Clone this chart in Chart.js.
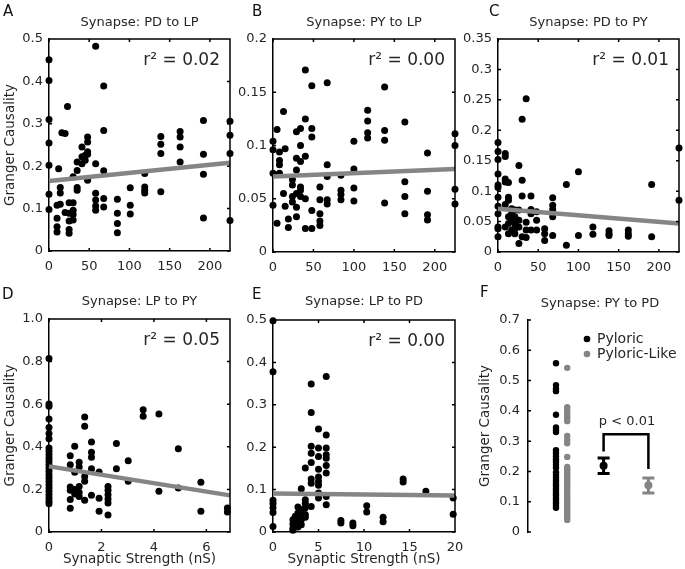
<!DOCTYPE html>
<html>
<head>
<meta charset="utf-8">
<script src="https://cdn.jsdelivr.net/npm/chart.js@4.4.1/dist/chart.umd.min.js"></script>
<style>
  html, body { margin: 0; padding: 0; background: #fff; }
  #wrap { position: relative; width: 685px; height: 569px; overflow: hidden; background: #fff; }
  #wrap canvas { position: absolute; }
</style>
</head>
<body>
<div id="wrap">
  <canvas id="pA"></canvas>
  <canvas id="pB"></canvas>
  <canvas id="pC"></canvas>
  <canvas id="pD"></canvas>
  <canvas id="pE"></canvas>
  <canvas id="pF"></canvas>
</div>
<script>
// A: PD to LP
const strengthA = [0, 10, 12, 14, 16, 20, 23, 25, 30, 35, 41, 45, 48, 58, 68, 85, 101, 119, 139, 163, 192, 225];
const grangerA = [
  [0.451, 0.402, 0.31, 0.255, 0.202, 0.134, 0.098],
  [0.108, 0.077, 0.057, 0.045],
  [0.194],
  [0.15, 0.137, 0.11],
  [0.279],
  [0.277, 0.091],
  [0.341],
  [0.114, 0.089, 0.071, 0.051, 0.042],
  [0.175, 0.114, 0.096, 0.086, 0.073],
  [0.21, 0.19, 0.15, 0.143],
  [0.245, 0.222, 0.206],
  [0.226, 0.214],
  [0.269, 0.257, 0.234, 0.228, 0.167],
  [0.483, 0.206, 0.136, 0.12, 0.106, 0.096],
  [0.389, 0.284, 0.189, 0.124, 0.104],
  [0.122, 0.089, 0.065, 0.043],
  [0.149, 0.108, 0.087],
  [0.183, 0.151, 0.143, 0.137],
  [0.27, 0.252, 0.23, 0.14],
  [0.282, 0.269, 0.245, 0.21],
  [0.308, 0.228, 0.181, 0.078],
  [0.306, 0.273, 0.23, 0.072]
];
const fitA = [0.165, 0.208];

// B: PY to LP
const strengthB = [0, 5, 8, 13, 15, 19, 24, 29, 34, 40, 48, 58, 67, 84, 100, 117, 138, 163, 191, 225];
const grangerB = [
  [0.104, 0.096, 0.074, 0.044],
  [0.115, 0.027],
  [0.094, 0.086, 0.082, 0.074],
  [0.132, 0.055],
  [0.097, 0.043],
  [0.031, 0.023],
  [0.068, 0.063, 0.052, 0.047],
  [0.113, 0.088, 0.077, 0.055, 0.042, 0.033],
  [0.116, 0.1, 0.085, 0.061, 0.058, 0.052],
  [0.171, 0.125, 0.09, 0.05, 0.022],
  [0.156, 0.116, 0.108, 0.039, 0.022],
  [0.061, 0.049, 0.036, 0.029, 0.025],
  [0.159, 0.082, 0.071, 0.049, 0.045],
  [0.072, 0.058, 0.054, 0.049],
  [0.104, 0.078, 0.06, 0.048],
  [0.133, 0.123, 0.112, 0.107],
  [0.155, 0.114, 0.105, 0.046],
  [0.122, 0.066, 0.052, 0.036],
  [0.093, 0.057, 0.035, 0.03],
  [0.111, 0.1, 0.059, 0.045]
];
const fitB = [0.071, 0.078];

// C: PD to PY
const strengthC = [0, 9, 13, 17, 21, 26, 30, 35, 41, 48, 58, 68, 85, 100, 118, 138, 162, 191, 225];
const grangerC = [
  [0.18, 0.165, 0.152, 0.128, 0.11, 0.106, 0.09, 0.075, 0.063, 0.041, 0.038, 0.025],
  [0.162, 0.157, 0.12, 0.115, 0.078, 0.041],
  [0.114, 0.09, 0.085, 0.058, 0.047, 0.03],
  [0.071, 0.063, 0.053, 0.036],
  [0.069, 0.058, 0.047, 0.038, 0.03],
  [0.142, 0.069, 0.052, 0.041, 0.014],
  [0.218, 0.118, 0.092, 0.025],
  [0.252, 0.049, 0.036, 0.024],
  [0.092, 0.07, 0.063, 0.036],
  [0.066, 0.052, 0.036],
  [0.038, 0.03, 0.019],
  [0.089, 0.077, 0.07, 0.058, 0.027],
  [0.111, 0.011],
  [0.132, 0.027],
  [0.041, 0.029],
  [0.035, 0.03, 0.027],
  [0.036, 0.03, 0.026],
  [0.111, 0.025],
  [0.171, 0.085]
];
const fitC = [0.071, 0.047];

// D: LP to PY
const strengthD = [0, 0.81, 0.98, 1.15, 1.36, 1.62, 1.91, 2.25, 2.57, 3.02, 3.59, 4.19, 4.93, 5.79, 6.8];
const grangerD = [
  [0.814, 0.601, 0.59, 0.53, 0.491, 0.462, 0.438, 0.394, 0.379, 0.363, 0.347, 0.332, 0.316,
   0.30, 0.285, 0.269, 0.254, 0.238, 0.222, 0.207, 0.191, 0.175, 0.16, 0.144, 0.133],
  [0.358, 0.316, 0.211, 0.196, 0.152, 0.111],
  [0.402, 0.28, 0.199, 0.178],
  [0.327, 0.305, 0.214, 0.186, 0.167],
  [0.54, 0.496, 0.261, 0.238, 0.149],
  [0.423, 0.374, 0.351, 0.297, 0.172],
  [0.282, 0.158, 0.097],
  [0.214, 0.196, 0.175, 0.155, 0.136, 0.08],
  [0.415, 0.297],
  [0.335, 0.238],
  [0.574, 0.543],
  [0.554, 0.191],
  [0.391, 0.207],
  [0.233, 0.097],
  [0.113, 0.094]
];
const fitD = [0.308, 0.172];

// E: LP to PD
const strengthE = [0, 2.19, 2.45, 2.74, 3.11, 3.55, 4.2, 5.0, 5.85, 7.46, 8.78, 10.3, 12.1, 14.3, 16.8, 19.8];
const grangerE = [
  [0.498, 0.378, 0.075, 0.067, 0.057, 0.046, 0.013],
  [0.029, 0.019, 0.009, 0.004],
  [0.037, 0.025, 0.013],
  [0.059, 0.045, 0.033, 0.021, 0.012],
  [0.102, 0.053, 0.041, 0.029, 0.017],
  [0.151, 0.076, 0.068, 0.057, 0.041, 0.035],
  [0.349, 0.282, 0.202, 0.186, 0.164, 0.125, 0.115, 0.06],
  [0.243, 0.198, 0.178, 0.148, 0.13, 0.119, 0.11, 0.092, 0.08],
  [0.367, 0.229, 0.198, 0.182, 0.174, 0.157, 0.139, 0.084, 0.064],
  [0.027, 0.021],
  [0.021, 0.015],
  [0.062, 0.047],
  [0.035, 0.024],
  [0.125, 0.118],
  [0.096],
  [0.08, 0.042]
];
const fitE = [0.091, 0.086];

// F: PY to PD, dos grupos
const groupNames = ['Pyloric', 'Pyloric-Like'];
const pyloric = [0.557, 0.485, 0.473, 0.465, 0.387, 0.345, 0.337, 0.33, 0.27, 0.26, 0.25, 0.24, 0.232,
  0.222, 0.212, 0.197, 0.188, 0.18, 0.172, 0.165, 0.158, 0.15, 0.143, 0.136, 0.128, 0.121, 0.114,
  0.107, 0.1, 0.094, 0.087, 0.08];
const pyloricLike = [0.542, 0.412, 0.402, 0.393, 0.384, 0.375, 0.366, 0.317, 0.305, 0.293, 0.248,
  0.215, 0.207, 0.199, 0.191, 0.183, 0.175, 0.167, 0.159, 0.151, 0.143, 0.135, 0.127, 0.119, 0.111,
  0.103, 0.095, 0.087, 0.079, 0.071, 0.063, 0.055, 0.047, 0.04];
const groupMean = [0.219, 0.154];
const groupLo = [0.193, 0.129];
const groupHi = [0.244, 0.178];
const bracketY = [0.266, 0.323, 0.208];

const r2Labels = ['0.02', '0.00', '0.01', '0.05', '0.00'];

const FONT = '"DejaVu Sans", sans-serif';
const INK = '#262626';
const GREY = '#858585';

function toPoints(xs, groups) {
  const pts = [];
  xs.forEach((x, i) => groups[i].forEach(y => pts.push({ x: x, y: y })));
  return pts;
}

// Plugin: letra del panel, título, r², leyenda, barras de error y ticks interiores
const panelDeco = {
  id: 'panelDeco',
  afterDatasetsDraw(chart, args, o) {
    const { ctx, scales } = chart;
    const a = chart.chartArea;
    ctx.save();
    // ticks hacia dentro y lados superior/derecho del marco
    ctx.strokeStyle = '#000';
    ctx.lineWidth = 1.5;
    ctx.beginPath();
    const L = a.left, R = a.right, T = a.top, B = a.bottom;
    if (o.boxed !== false) {
      ctx.moveTo(L, T); ctx.lineTo(R, T); ctx.lineTo(R, B);
      scales.x.ticks.forEach(t => {
        const px = scales.x.getPixelForValue(t.value);
        ctx.moveTo(px, B); ctx.lineTo(px, B - 3);
        ctx.moveTo(px, T); ctx.lineTo(px, T + 3);
      });
    }
    scales.y.ticks.forEach(t => {
      const py = scales.y.getPixelForValue(t.value);
      ctx.moveTo(L, py); ctx.lineTo(L + 3, py);
      if (o.boxed !== false) { ctx.moveTo(R, py); ctx.lineTo(R - 3, py); }
    });
    ctx.stroke();

    if (o.errors) {
      const e = o.errors;
      e.x.forEach((x, i) => {
        const px = scales.x.getPixelForValue(x);
        const lo = scales.y.getPixelForValue(e.lo[i]);
        const hi = scales.y.getPixelForValue(e.hi[i]);
        ctx.strokeStyle = e.colors[i];
        ctx.lineWidth = 3;
        ctx.beginPath();
        ctx.moveTo(px, lo); ctx.lineTo(px, hi);
        ctx.moveTo(px - 6, lo); ctx.lineTo(px + 6, lo);
        ctx.moveTo(px - 6, hi); ctx.lineTo(px + 6, hi);
        ctx.stroke();
      });
    }
    ctx.restore();
  },
  afterDraw(chart, args, o) {
    const { ctx, chartArea: a } = chart;
    const ox = o.origin[0], oy = o.origin[1];
    ctx.save();
    ctx.fillStyle = '#111';
    ctx.textBaseline = 'middle';
    ctx.textAlign = 'left';
    ctx.font = '15px ' + FONT;
    ctx.fillText(o.letter[0], o.letter[1] - ox, o.letter[2] - oy);
    ctx.textAlign = 'center';
    ctx.fillStyle = INK;
    ctx.font = '13px ' + FONT;
    const tx = o.titleX != null ? o.titleX - ox : (a.left + a.right) / 2;
    ctx.fillText(o.title, tx, o.titleY - oy);
    if (o.r2) {
      ctx.textAlign = 'right';
      ctx.font = '17px ' + FONT;
      ctx.fillText('r² = ' + o.r2, a.right - 10, a.top + 22);
    }
    if (o.legend) {
      ctx.textAlign = 'left';
      ctx.font = '14px ' + FONT;
      o.legend.items.forEach((name, i) => {
        const y = o.legend.y[i] - oy;
        ctx.fillStyle = o.legend.colors[i];
        ctx.beginPath();
        ctx.arc(o.legend.x - ox, y, 3.3, 0, Math.PI * 2);
        ctx.fill();
        ctx.fillStyle = INK;
        ctx.fillText(name, o.legend.x + 10 - ox, y);
      });
    }
    if (o.note) {
      ctx.textAlign = 'center';
      ctx.font = '13px ' + FONT;
      ctx.fillStyle = INK;
      ctx.fillText(o.note[0], o.note[1] - ox, o.note[2] - oy);
    }
    ctx.restore();
  }
};

// Crea un panel: box = posición del canvas, area = área de datos (coordenadas de página)
function makePanel(id, box, area, p) {
  const cv = document.getElementById(id);
  cv.width = box.w; cv.height = box.h;
  cv.style.left = box.x + 'px'; cv.style.top = box.y + 'px';
  cv.style.width = box.w + 'px'; cv.style.height = box.h + 'px';
  const l = area.l - box.x, t = area.t - box.y, r = area.r - box.x, b = area.b - box.y;
  const tickFont = { family: FONT, size: 13 };
  const titleFont = { family: FONT, size: 13.5 };

  return new Chart(cv, {
    type: 'scatter',
    data: { datasets: p.datasets },
    options: {
      responsive: false,
      animation: false,
      layout: { padding: { left: 0, top: t, right: box.w - r, bottom: 0 } },
      plugins: {
        legend: { display: false },
        tooltip: { enabled: false },
        panelDeco: Object.assign({ origin: [box.x, box.y] }, p.deco)
      },
      scales: {
        x: {
          type: 'linear',
          display: !p.hideX,
          min: p.xMin || 0,
          max: p.xMax,
          grid: { display: false, drawTicks: false },
          border: { display: true, color: '#000', width: 1.5 },
          ticks: {
            stepSize: p.xStep, includeBounds: false, padding: 8, maxRotation: 0,
            color: INK, font: tickFont
          },
          title: {
            display: !!p.xTitle, text: p.xTitle || '', color: INK, font: titleFont,
            padding: { top: 0, bottom: 1 }
          },
          afterFit(s) { s.height = box.h - b; }
        },
        y: {
          type: 'linear',
          min: 0,
          max: p.yMax,
          grid: { display: false, drawTicks: false },
          border: { display: true, color: '#000', width: 1.5 },
          ticks: {
            stepSize: p.yStep, includeBounds: false, padding: p.yPad || 6,
            color: INK, font: tickFont,
            callback: p.yFmt || (v => String(+v.toFixed(3)))
          },
          title: {
            display: !!p.yTitle, text: p.yTitle || '', color: INK, font: titleFont,
            padding: { top: p.yTitlePad || 0, bottom: 0 }
          },
          afterFit(s) { s.width = l; }
        }
      }
    },
    plugins: [panelDeco]
  });
}

function scatterSet(points, color, radius) {
  return {
    data: points, order: 1, clip: false,
    pointRadius: radius || 3.5, pointHoverRadius: radius || 3.5,
    pointBackgroundColor: color, pointBorderWidth: 0
  };
}
function fitSet(fit, xMax) {
  return {
    data: [{ x: 0, y: fit[0] }, { x: xMax, y: fit[1] }],
    order: 0, showLine: true, borderColor: GREY, borderWidth: 4.5,
    pointRadius: 0, clip: false
  };
}

const row1 = 0, row2 = 280;
const strengthTitle = 'Synaptic Strength (nS)';
const gcTitle = 'Granger Causality';

makePanel('pA', { x: 0, y: row1, w: 240, h: 280 }, { l: 49, t: 39, r: 230, b: 251 }, {
  datasets: [fitSet(fitA, 225), scatterSet(toPoints(strengthA, grangerA), '#000')],
  xMax: 225, xStep: 50, yMax: 0.5, yStep: 0.1, yTitle: gcTitle, yTitlePad: 2,
  deco: { letter: ['A', 3, 12], title: 'Synapse: PD to LP', titleY: 23, r2: r2Labels[0] }
});

makePanel('pB', { x: 232, y: row1, w: 235, h: 280 }, { l: 273, t: 39, r: 455, b: 252 }, {
  datasets: [fitSet(fitB, 225), scatterSet(toPoints(strengthB, grangerB), '#000')],
  xMax: 225, xStep: 50, yMax: 0.2, yStep: 0.05,
  deco: { letter: ['B', 252, 12], title: 'Synapse: PY to LP', titleY: 23, r2: r2Labels[1] }
});

makePanel('pC', { x: 458, y: row1, w: 227, h: 280 }, { l: 498, t: 39, r: 679, b: 252 }, {
  datasets: [fitSet(fitC, 225), scatterSet(toPoints(strengthC, grangerC), '#000')],
  xMax: 225, xStep: 50, yMax: 0.35, yStep: 0.05,
  deco: { letter: ['C', 489, 12], title: 'Synapse: PD to PY', titleY: 23, r2: r2Labels[2] }
});

makePanel('pD', { x: 0, y: row2, w: 240, h: 289 }, { l: 49, t: 319, r: 230, b: 532 }, {
  datasets: [fitSet(fitD, 6.9), scatterSet(toPoints(strengthD, grangerD), '#000')],
  xMax: 6.9, xStep: 2, yMax: 1.0, yStep: 0.2, yTitle: gcTitle, yTitlePad: 2, xTitle: strengthTitle,
  yFmt: v => (v === 0 ? '0' : v.toFixed(1)),
  deco: { letter: ['D', 2, 295], title: 'Synapse: LP to PY', titleY: 302, r2: r2Labels[3] }
});

makePanel('pE', { x: 232, y: row2, w: 240, h: 289 }, { l: 273, t: 320, r: 455, b: 532 }, {
  datasets: [fitSet(fitE, 20), scatterSet(toPoints(strengthE, grangerE), '#000')],
  xMax: 20, xStep: 5, yMax: 0.5, yStep: 0.1, xTitle: strengthTitle,
  deco: { letter: ['E', 252, 295], title: 'Synapse: LP to PD', titleY: 302, r2: r2Labels[4] }
});

// F: posiciones horizontales de las columnas y de las barras de resumen
const groupX = [1, 1.4];
const summaryX = [2.7, 4.3];
makePanel('pF', { x: 460, y: row2, w: 225, h: 289 }, { l: 528, t: 320, r: 668, b: 532 }, {
  datasets: [
    {
      data: [
        { x: summaryX[0], y: bracketY[0] }, { x: summaryX[0], y: bracketY[1] },
        { x: summaryX[1], y: bracketY[1] }, { x: summaryX[1], y: bracketY[2] }
      ],
      order: 2, showLine: true, borderColor: '#000', borderWidth: 2.5, pointRadius: 0, clip: false
    },
    scatterSet(pyloric.map(y => ({ x: groupX[0], y: y })), '#000', 3.2),
    scatterSet(pyloricLike.map(y => ({ x: groupX[1], y: y })), GREY, 3.2),
    Object.assign(scatterSet(groupMean.map((y, i) => ({ x: summaryX[i], y: y })), ['#000', GREY], 4), { order: 0 })
  ],
  hideX: true, xMax: 5, xStep: 1, yMax: 0.7, yStep: 0.1, yPad: 8, yTitle: gcTitle, yTitlePad: 17,
  deco: {
    boxed: false, letter: ['F', 480, 293], title: 'Synapse: PY to PD', titleX: 600, titleY: 304,
    legend: { items: groupNames, colors: ['#000', GREY], x: 587, y: [339, 354] },
    note: ['p < 0.01', 627, 422],
    errors: { x: summaryX, lo: groupLo, hi: groupHi, colors: ['#000', GREY] }
  }
});
</script>
</body>
</html>
